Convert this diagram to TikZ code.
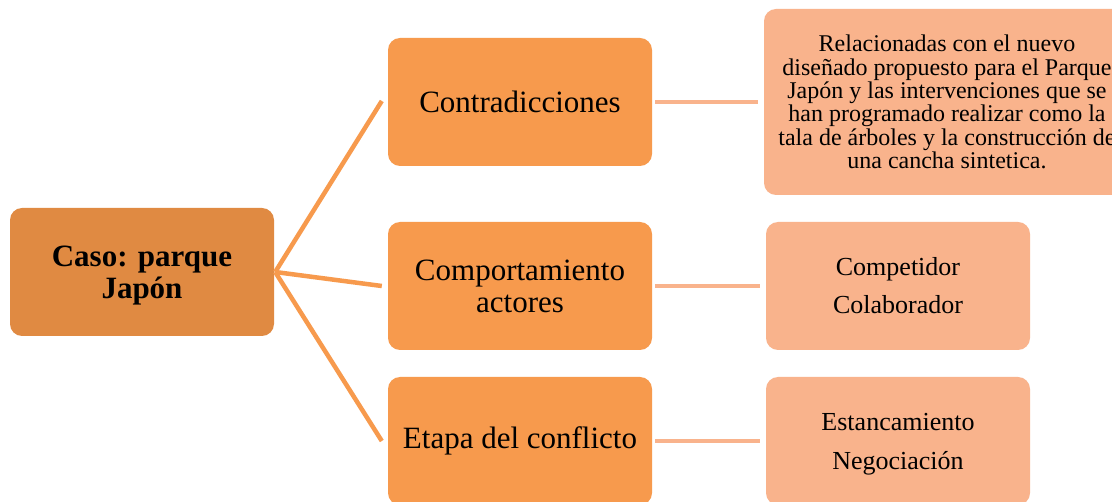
\documentclass[tikz,border=0pt]{standalone}
\usepackage{fontspec}
\setmainfont{Liberation Serif}
\definecolor{rootc}{RGB}{224,138,66}
\definecolor{midc}{RGB}{247,154,77}
\definecolor{leafc}{RGB}{249,179,140}
\begin{document}
\begin{tikzpicture}[x=1pt,y=-1pt,
  box/.style={rounded corners=12pt, inner sep=0pt, align=center, text=black},
  rootbox/.style={box, fill=rootc, minimum width=264pt, minimum height=128pt},
  roottext/.style={inner sep=0pt, align=center, text=black, font=\fontsize{31}{32}\selectfont\bfseries},
  midbox/.style={box, fill=midc, minimum width=264pt, minimum height=128pt, font=\fontsize{31}{32}\selectfont},
  leafbox/.style={box, fill=leafc, minimum width=264pt, minimum height=128pt, font=\fontsize{26}{38}\selectfont},
  leaftext/.style={inner sep=0pt, align=center, text=black, font=\fontsize{26}{39}\selectfont},
  linkA/.style={draw=midc, line width=4.5pt},
  linkB/.style={draw=leafc, line width=4.5pt}]
\useasboundingbox (0,0) rectangle (1112,502);
\fill[white] (0,0) rectangle (1112,502);
\node[rootbox] (root) at (142,272) {};
\node[roottext] (roott) at (142,276) {Caso: parque\\Japón};
\node[midbox] (m1) at (520,102) {Contradicciones};
\node[midbox] (m2) at (520,286) {Comportamiento\\actores};
\node[midbox] (m3) at (520,441) {Etapa del conflicto};
\node[leafbox, minimum width=366pt, minimum height=186pt, font=\fontsize{24}{23.3}\selectfont] (l1) at (947,102)
  {Relacionadas con el nuevo\\diseñado propuesto para el Parque\\Japón y las intervenciones que se\\han programado realizar como la\\tala de árboles y la construcción de\\una cancha sintetica.};
\node[leafbox] (l2) at (898,286) {Competidor\\Colaborador};
\node[leafbox] (l3) at (898,441) {};
\node[leaftext] (l3t) at (898,444) {Estancamiento\\Negociación};
\coordinate (j) at ([xshift=1pt]root.east);
\draw[linkA] (j) -- ([xshift=-6pt,yshift=1pt]m1.west);
\draw[linkA] (j) -- ([xshift=-6pt]m2.west);
\draw[linkA] (j) -- ([xshift=-6pt]m3.west);
\draw[linkB] ([xshift=3pt]m1.east) -- ([xshift=-6pt]l1.west);
\draw[linkB] ([xshift=3pt]m2.east) -- ([xshift=-6pt]l2.west);
\draw[linkB] ([xshift=3pt]m3.east) -- ([xshift=-6pt]l3.west);
\end{tikzpicture}
\end{document}
